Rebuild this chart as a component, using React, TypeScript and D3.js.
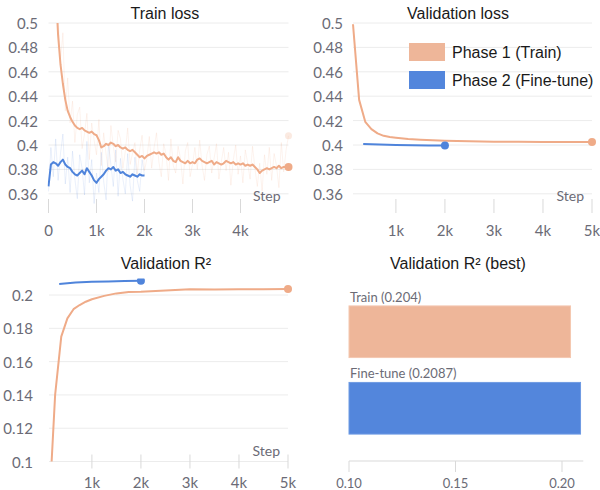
import React from "react";
import * as d3 from "d3";

// ---------- DATA ----------
const trainSteps1 = d3.range(150, 5001, 50); // Phase 1 logged steps
const trainSmooth1 = [
  0.530, 0.490, 0.466, 0.450, 0.437, 0.428, 0.423, 0.419, 0.416, 0.414,
  0.413, 0.414, 0.412, 0.411, 0.410, 0.411, 0.409, 0.408, 0.404, 0.398,
  0.399, 0.401, 0.400, 0.402, 0.401, 0.399, 0.400, 0.398, 0.397, 0.398,
  0.396, 0.395, 0.396, 0.394, 0.392, 0.390, 0.391, 0.389, 0.391, 0.392,
  0.393, 0.394, 0.393, 0.394, 0.392, 0.393, 0.390, 0.388, 0.390, 0.387,
  0.386, 0.390, 0.387, 0.386, 0.385, 0.387, 0.385, 0.386, 0.385, 0.388,
  0.389, 0.387, 0.386, 0.385, 0.386, 0.387, 0.384, 0.386, 0.385, 0.384,
  0.385, 0.387, 0.386, 0.385, 0.386, 0.384, 0.385, 0.384, 0.385, 0.383,
  0.384, 0.383, 0.384, 0.382, 0.380, 0.377, 0.379, 0.380, 0.381, 0.380,
  0.381, 0.382, 0.381, 0.383, 0.381, 0.382, 0.382, 0.382,
];
const trainRaw1 = [
  0.545, 0.505, 0.470, 0.492, 0.428, 0.455, 0.418, 0.436, 0.402, 0.425,
  0.431, 0.397, 0.409, 0.426, 0.388, 0.418, 0.404, 0.392, 0.421, 0.383,
  0.410, 0.392, 0.378, 0.416, 0.399, 0.386, 0.412, 0.405, 0.381, 0.395,
  0.414, 0.384, 0.393, 0.402, 0.376, 0.396, 0.408, 0.379, 0.389, 0.407,
  0.381, 0.398, 0.410, 0.386, 0.374, 0.401, 0.392, 0.371, 0.405, 0.383,
  0.377, 0.399, 0.389, 0.368, 0.395, 0.402, 0.374, 0.384, 0.398, 0.380,
  0.404, 0.383, 0.371, 0.392, 0.399, 0.377, 0.389, 0.401, 0.372, 0.386,
  0.398, 0.379, 0.394, 0.367, 0.388, 0.400, 0.376, 0.391, 0.369, 0.396,
  0.385, 0.372, 0.399, 0.381, 0.366, 0.385, 0.362, 0.392, 0.376, 0.398,
  0.371, 0.393, 0.383, 0.365, 0.402, 0.378, 0.396, 0.4075,
];
const trainSteps2 = d3.range(0, 2001, 50); // Phase 2 logged steps
const trainSmooth2 = [
  0.366, 0.384, 0.386, 0.385, 0.383, 0.386, 0.388, 0.384, 0.382, 0.381,
  0.378, 0.376, 0.375, 0.377, 0.379, 0.376, 0.381, 0.378, 0.375, 0.371,
  0.369, 0.372, 0.374, 0.376, 0.379, 0.381, 0.380, 0.382, 0.379, 0.380,
  0.377, 0.378, 0.376, 0.375, 0.374, 0.376, 0.375, 0.374, 0.376, 0.375, 0.375,
];
const trainRaw2 = [
  0.362, 0.398, 0.374, 0.405, 0.371, 0.393, 0.409, 0.368, 0.390, 0.361,
  0.395, 0.372, 0.356, 0.392, 0.381, 0.359, 0.403, 0.369, 0.388, 0.352,
  0.377, 0.361, 0.394, 0.370, 0.355, 0.401, 0.384, 0.366, 0.396, 0.358,
  0.389, 0.372, 0.360, 0.393, 0.367, 0.354, 0.390, 0.371, 0.362, 0.388, 0.375,
];

const valSteps1 = [125, 250, 375, 500, 625, 750, 875, 1000, 1250, 1500, 1750, 2000, 2500, 3000, 3500, 4000, 4500, 5000];
const valLoss1 = [0.499, 0.437, 0.419, 0.413, 0.4095, 0.4075, 0.4065, 0.406, 0.405, 0.4043, 0.4038, 0.4035, 0.403, 0.4027, 0.4026, 0.4025, 0.4025, 0.4025];
const valR2_1 = [0.07, 0.14, 0.175, 0.186, 0.1915, 0.194, 0.196, 0.1975, 0.1995, 0.201, 0.2018, 0.202, 0.2028, 0.2035, 0.2034, 0.2035, 0.2035, 0.2036];

const valSteps2 = [333, 667, 1000, 1333, 1667, 2000];
const valLoss2 = [0.4008, 0.4004, 0.4001, 0.3998, 0.3996, 0.3995];
const valR2_2 = [0.2066, 0.2075, 0.208, 0.2082, 0.2084, 0.2086];

const bestNames = ["Train", "Fine-tune"];
const bestValues = [0.204, 0.2087];
const bestLabels = ["Train (0.204)", "Fine-tune (0.2087)"];

const legendLabels = ["Phase 1 (Train)", "Phase 2 (Fine-tune)"];
const lossTicks = [0.36, 0.38, 0.4, 0.42, 0.44, 0.46, 0.48, 0.5];
const r2Ticks = [0.1, 0.12, 0.14, 0.16, 0.18, 0.2];
const stepTicksTrain = [0, 1000, 2000, 3000, 4000];
const stepTicksVal = [1000, 2000, 3000, 4000, 5000];
const barTicks = [0.1, 0.15, 0.2];

// ---------- STYLE ----------
const ORANGE = "#efab88";
const ORANGE_FILL = "#eeb699";
const BLUE = "#4f84db";
const BLUE_FILL = "#5386dc";
const GRID = "#ececec";
const TICKC = "#d9d9d9";
const LABEL = "#6b6b76";
const TICKFONT = "Lato, 'Open Sans', sans-serif";
const TITLEFONT = "'Liberation Sans', Arial, sans-serif";

const fmtK = (v: number) => (v === 0 ? "0" : `${v / 1000}k`);
const fmtNum = (v: number) => String(+v.toFixed(2));

type Pt = [number, number];
const zip = (xs: number[], ys: number[]): Pt[] => xs.map((x, i) => [x, ys[i]]);

function LinePanel(props: {
  id: string;
  title: string;
  titleX: number;
  titleY: number;
  x: d3.ScaleLinear<number, number>;
  y: d3.ScaleLinear<number, number>;
  yTicks: number[];
  xTicks: number[];
  labelRight: number;
  xLabelOffset: number;
  children: React.ReactNode;
}) {
  const { id, title, titleX, titleY, x, y, yTicks, xTicks, labelRight, xLabelOffset } = props;
  const [x0, x1] = x.range();
  const [yb, yt] = y.range();
  return (
    <g>
      <text x={titleX} y={titleY} textAnchor="middle" fontFamily={TITLEFONT} fontSize={16} fill="#1a1a1a">
        {title}
      </text>
      {yTicks.map((t) => (
        <g key={t}>
          <line x1={x0} x2={x1} y1={y(t)} y2={y(t)} stroke={GRID} strokeWidth={1} />
          <text x={labelRight} y={y(t)} textAnchor="end" dominantBaseline="central" fontFamily={TICKFONT} fontSize={15} fill={LABEL}>
            {fmtNum(t)}
          </text>
        </g>
      ))}
      {xTicks.map((t) => (
        <g key={t}>
          <line x1={x(t)} x2={x(t)} y1={yb - 7} y2={yb + 7} stroke={TICKC} strokeWidth={1} />
          <text x={x(t)} y={yb + xLabelOffset} textAnchor="middle" dominantBaseline="central" fontFamily={TICKFONT} fontSize={15} fill={LABEL}>
            {fmtK(t)}
          </text>
        </g>
      ))}
      <text x={x1 - 8} y={yb - 11} textAnchor="end" dominantBaseline="central" fontFamily={TICKFONT} fontSize={14} fill={LABEL}>
        Step
      </text>
      <clipPath id={id}>
        <rect x={x0 - 1} y={yt} width={x1 - x0 + 8} height={yb - yt} />
      </clipPath>
      <g clipPath={`url(#${id})`}>{props.children}</g>
    </g>
  );
}

export default function App() {
  // Panel 1: Train loss
  const x1 = d3.scaleLinear().domain([0, 5000]).range([48.5, 288.5]);
  const y1 = d3.scaleLinear().domain([0.35, 0.5]).range([206, 23]);
  const l1 = d3.line<Pt>().x((d) => x1(d[0])).y((d) => y1(d[1]));

  // Panel 2: Validation loss
  const x2 = d3.scaleLinear().domain([125, 5000]).range([353, 592]);
  const y2 = d3.scaleLinear().domain([0.35, 0.5]).range([206, 23]);
  const l2 = d3.line<Pt>().x((d) => x2(d[0])).y((d) => y2(d[1]));

  // Panel 3: Validation R2
  const x3 = d3.scaleLinear().domain([125, 5000]).range([49, 288]);
  const y3 = d3.scaleLinear().domain([0.1, 0.21]).range([461.5, 278.4]);
  const l3 = d3.line<Pt>().x((d) => x3(d[0])).y((d) => y3(d[1]));

  // Panel 4: best bars
  const xb = d3.scaleLinear().domain([0.1, 0.21]).range([349, 583.3]);
  const yb = d3.scaleBand<string>().domain(bestNames).range([293.5, 446.5]).paddingInner(0.325).paddingOuter(0.1623);
  const barFill = [ORANGE_FILL, BLUE_FILL];
  const barStroke = ["#f4c7b0", "#6f9be3"];

  const last = <T,>(a: T[]) => a[a.length - 1];

  return (
    <svg width={600} height={490} style={{ position: "absolute", left: 0, top: 0, background: "#fff" }}>
      <rect width={600} height={490} fill="#fff" />

      <LinePanel id="c1" title="Train loss" titleX={165} titleY={19} x={x1} y={y1} yTicks={lossTicks} xTicks={stepTicksTrain} labelRight={38} xLabelOffset={24}>
        <path d={l1(zip(trainSteps1, trainRaw1)) || ""} fill="none" stroke={ORANGE} strokeOpacity={0.14} strokeWidth={1} />
        <path d={l1(zip(trainSteps2, trainRaw2)) || ""} fill="none" stroke={BLUE} strokeOpacity={0.12} strokeWidth={1} />
        <path d={l1(zip(trainSteps1, trainSmooth1)) || ""} fill="none" stroke={ORANGE} strokeWidth={2} strokeLinejoin="round" />
        <path d={l1(zip(trainSteps2, trainSmooth2)) || ""} fill="none" stroke={BLUE} strokeWidth={2} strokeLinejoin="round" />
        <circle cx={x1(last(trainSteps1))} cy={y1(last(trainRaw1))} r={3.5} fill={ORANGE} fillOpacity={0.25} />
        <circle cx={x1(last(trainSteps1))} cy={y1(last(trainSmooth1))} r={4} fill={ORANGE} />
      </LinePanel>

      <LinePanel id="c2" title="Validation loss" titleX={458} titleY={19} x={x2} y={y2} yTicks={lossTicks} xTicks={stepTicksVal} labelRight={343} xLabelOffset={24}>
        <path d={l2(zip(valSteps1, valLoss1)) || ""} fill="none" stroke={ORANGE} strokeWidth={2} strokeLinejoin="round" />
        <path d={l2(zip(valSteps2, valLoss2)) || ""} fill="none" stroke={BLUE} strokeWidth={2} strokeLinejoin="round" />
        <circle cx={x2(last(valSteps1))} cy={y2(last(valLoss1))} r={4} fill={ORANGE} />
        <circle cx={x2(last(valSteps2))} cy={y2(last(valLoss2))} r={4} fill={BLUE} />
      </LinePanel>

      {/* Legend */}
      {legendLabels.map((lab, i) => (
        <g key={lab}>
          <rect x={409} y={43 + i * 28} width={36} height={18} fill={barFill[i]} />
          <text x={452} y={52 + i * 28} dominantBaseline="central" fontFamily={TITLEFONT} fontSize={16} fill="#1a1a1a">
            {lab}
          </text>
        </g>
      ))}

      <LinePanel id="c3" title="Validation R²" titleX={166} titleY={269} x={x3} y={y3} yTicks={r2Ticks} xTicks={stepTicksVal} labelRight={33} xLabelOffset={20.5}>
        <path d={l3(zip(valSteps1, valR2_1)) || ""} fill="none" stroke={ORANGE} strokeWidth={2} strokeLinejoin="round" />
        <path d={l3(zip(valSteps2, valR2_2)) || ""} fill="none" stroke={BLUE} strokeWidth={2} strokeLinejoin="round" />
        <circle cx={x3(last(valSteps1))} cy={y3(last(valR2_1))} r={4} fill={ORANGE} />
        <circle cx={x3(last(valSteps2))} cy={y3(last(valR2_2))} r={4} fill={BLUE} />
      </LinePanel>

      {/* Panel 4: best R2 bars */}
      <g>
        <text x={458} y={269} textAnchor="middle" fontFamily={TITLEFONT} fontSize={16} fill="#1a1a1a">
          Validation R² (best)
        </text>
        {bestNames.map((n, i) => (
          <g key={n}>
            <text x={xb(0.1) + 1} y={(yb(n) as number) - 9} dominantBaseline="central" fontFamily={TICKFONT} fontSize={13} fill={LABEL}>
              {bestLabels[i]}
            </text>
            <rect
              x={xb(0.1)}
              y={yb(n) as number}
              width={xb(bestValues[i]) - xb(0.1)}
              height={yb.bandwidth()}
              fill={barFill[i]}
              stroke={barStroke[i]}
              strokeWidth={1}
            />
          </g>
        ))}
        <line x1={xb.range()[0]} x2={xb.range()[1]} y1={461} y2={461} stroke={TICKC} strokeWidth={1} />
        {barTicks.map((t) => (
          <g key={t}>
            <line x1={xb(t)} x2={xb(t)} y1={461} y2={472} stroke={TICKC} strokeWidth={1} />
            <text x={xb(t)} y={482.5} textAnchor="middle" dominantBaseline="central" fontFamily={TICKFONT} fontSize={13} fill={LABEL}>
              {t.toFixed(2)}
            </text>
          </g>
        ))}
      </g>
    </svg>
  );
}
